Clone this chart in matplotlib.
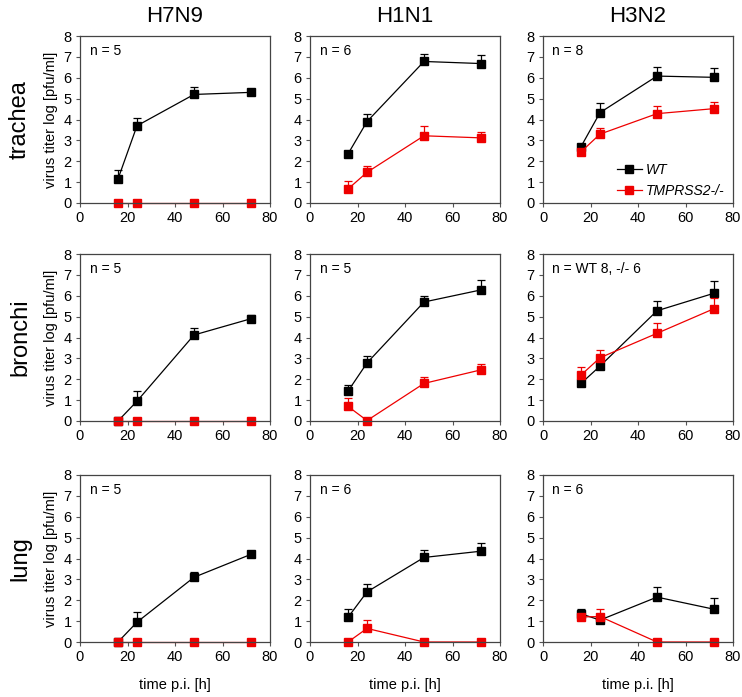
import numpy as np
import matplotlib.pyplot as plt

plt.rcParams['font.family'] = ['Liberation Sans', 'DejaVu Sans']

hours = [16, 24, 48, 72]
viruses = ['H7N9', 'H1N1', 'H3N2']
tissues = ['trachea', 'bronchi', 'lung']

# WT mean / upper error, KO mean / upper error, per tissue (row) and virus (col)
wt = {
    ('trachea', 'H7N9'): [1.15, 3.7, 5.2, 5.3],
    ('trachea', 'H1N1'): [2.35, 3.9, 6.78, 6.68],
    ('trachea', 'H3N2'): [2.7, 4.33, 6.08, 6.02],
    ('bronchi', 'H7N9'): [0.0, 0.95, 4.12, 4.9],
    ('bronchi', 'H1N1'): [1.43, 2.78, 5.7, 6.28],
    ('bronchi', 'H3N2'): [1.8, 2.63, 5.28, 6.12],
    ('lung', 'H7N9'): [0.0, 0.95, 3.1, 4.2],
    ('lung', 'H1N1'): [1.18, 2.4, 4.05, 4.35],
    ('lung', 'H3N2'): [1.35, 1.05, 2.15, 1.57],
}
wt_err = {
    ('trachea', 'H7N9'): [0.45, 0.35, 0.38, 0.1],
    ('trachea', 'H1N1'): [0.05, 0.35, 0.37, 0.42],
    ('trachea', 'H3N2'): [0.15, 0.47, 0.42, 0.47],
    ('bronchi', 'H7N9'): [0.0, 0.47, 0.35, 0.17],
    ('bronchi', 'H1N1'): [0.3, 0.32, 0.3, 0.47],
    ('bronchi', 'H3N2'): [0.1, 0.0, 0.47, 0.57],
    ('lung', 'H7N9'): [0.0, 0.47, 0.25, 0.12],
    ('lung', 'H1N1'): [0.38, 0.38, 0.37, 0.37],
    ('lung', 'H3N2'): [0.25, 0.15, 0.5, 0.52],
}
ko = {
    ('trachea', 'H7N9'): [0.0, 0.0, 0.0, 0.0],
    ('trachea', 'H1N1'): [0.67, 1.47, 3.22, 3.12],
    ('trachea', 'H3N2'): [2.45, 3.3, 4.28, 4.52],
    ('bronchi', 'H7N9'): [0.0, 0.0, 0.0, 0.0],
    ('bronchi', 'H1N1'): [0.7, 0.02, 1.8, 2.45],
    ('bronchi', 'H3N2'): [2.2, 3.03, 4.2, 5.38],
    ('lung', 'H7N9'): [0.0, 0.0, 0.0, 0.0],
    ('lung', 'H1N1'): [0.0, 0.65, 0.0, 0.0],
    ('lung', 'H3N2'): [1.2, 1.22, 0.0, 0.0],
}
ko_err = {
    ('trachea', 'H7N9'): [0.0, 0.0, 0.0, 0.0],
    ('trachea', 'H1N1'): [0.38, 0.3, 0.47, 0.3],
    ('trachea', 'H3N2'): [0.1, 0.3, 0.37, 0.3],
    ('bronchi', 'H7N9'): [0.0, 0.0, 0.0, 0.0],
    ('bronchi', 'H1N1'): [0.4, 0.0, 0.32, 0.3],
    ('bronchi', 'H3N2'): [0.4, 0.35, 0.5, 0.52],
    ('lung', 'H7N9'): [0.0, 0.0, 0.0, 0.0],
    ('lung', 'H1N1'): [0.0, 0.4, 0.0, 0.0],
    ('lung', 'H3N2'): [0.1, 0.38, 0.0, 0.0],
}
n_labels = {
    ('trachea', 'H7N9'): 'n = 5', ('trachea', 'H1N1'): 'n = 6', ('trachea', 'H3N2'): 'n = 8',
    ('bronchi', 'H7N9'): 'n = 5', ('bronchi', 'H1N1'): 'n = 5', ('bronchi', 'H3N2'): 'n = WT 8, -/- 6',
    ('lung', 'H7N9'): 'n = 5', ('lung', 'H1N1'): 'n = 6', ('lung', 'H3N2'): 'n = 6',
}

W, H = 742, 697
fig = plt.figure(figsize=(W / 100, H / 100), dpi=100)

lefts = [80, 310, 543]
tops = [36, 254, 475]
aw, ah = 190, 167

for r, t in enumerate(tissues):
    for c, v in enumerate(viruses):
        ax = fig.add_axes([lefts[c] / W, 1 - (tops[r] + ah) / H, aw / W, ah / H])
        key = (t, v)
        for vals, err, col, lab in [(wt[key], wt_err[key], 'black', 'WT'),
                                    (ko[key], ko_err[key], '#ee0000', 'TMPRSS2-/-')]:
            x = np.array(hours)
            y = np.array(vals)
            e = np.array(err)
            m = e > 0
            ax.errorbar(x[m], y[m], yerr=[np.zeros(m.sum()), e[m]], fmt='none', ecolor=col,
                        elinewidth=0.9, capsize=3, capthick=0.9, clip_on=False)
            ax.plot(x, y, color=col, marker='s', markersize=5.5, lw=0.9, label=lab, clip_on=False)
        ax.set_xlim(0, 80)
        ax.set_ylim(0, 8)
        ax.set_xticks([0, 20, 40, 60, 80])
        ax.set_yticks(range(9))
        ax.tick_params(labelsize=10.5, length=3, width=0.8, color='#555555', pad=3)
        for s in ax.spines.values():
            s.set_color('#444444')
            s.set_linewidth(0.9)
        ax.text(0.05, 0.95, n_labels[key], transform=ax.transAxes, ha='left', va='top', fontsize=10)
        if r == 2:
            ax.set_xlabel('time p.i. [h]', fontsize=10.5, labelpad=10)
        if c == 0:
            ax.set_ylabel('virus titer log [pfu/ml]', fontsize=10.5, labelpad=4)
            fig.text(20 / W, 1 - (tops[r] + ah / 2) / H, t, rotation=90, ha='center',
                     va='center', fontsize=17)
        if r == 0:
            fig.text((lefts[c] + aw / 2) / W, 1 - 17 / H, v, ha='center', va='center', fontsize=16)
        if r == 0 and c == 2:
            leg = ax.legend(loc='lower right', frameon=False, fontsize=10, handlelength=1.8,
                            handletextpad=0.3, bbox_to_anchor=(1.02, -0.045))
            for txt in leg.get_texts():
                txt.set_style('italic')

fig.savefig('out.png', dpi=100)
